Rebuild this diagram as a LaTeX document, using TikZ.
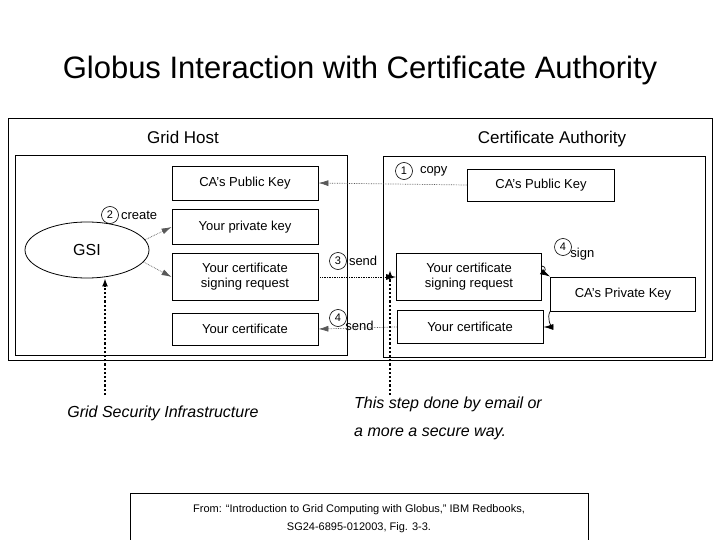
\documentclass[tikz,border=0pt]{standalone}
\usepackage{fontspec}
\setmainfont{Liberation Sans}
\usetikzlibrary{arrows.meta, positioning, shapes.geometric}

\begin{document}
\begin{tikzpicture}[x=1pt, y=-1pt,
      keybox/.style={draw, line width=0.8pt, minimum width=146pt, align=center, font=\fontsize{13}{15}\selectfont, inner sep=2pt},
      frame/.style={draw, line width=0.8pt},
      stepnum/.style={circle, draw, line width=0.6pt, inner sep=0.6pt, minimum size=17pt, font=\fontsize{11}{12}\selectfont},
      lbl/.style={font=\fontsize{13}{15}\selectfont},
      copyarrow/.style={-{Latex[length=10pt,width=6pt]}, densely dotted, gray!70!black, line width=0.7pt},
      notearrow/.style={-{Latex[length=8pt,width=6pt]}, dotted, line width=2.2pt},
      every node/.style={inner sep=1pt}
      ]
    \useasboundingbox (0,0) rectangle (720,540);

    % Title
    \node[font=\fontsize{31}{36}\selectfont] (title) at (360,70) {Globus Interaction with Certificate Authority};

    % Frames
    \draw[frame] (8,118) rectangle (712,360);
    \draw[frame] (15,155) rectangle (347,355);
    \draw[frame] (383,156) rectangle (705,357);
    \node[font=\fontsize{17}{20}\selectfont] (hostlbl) at (183,137) {Grid Host};
    \node[font=\fontsize{17}{20}\selectfont] (calbl) at (552,139) {Certificate Authority};

    % Grid host nodes
    \node[draw, ellipse, line width=0.8pt, minimum width=124pt, minimum height=56pt, font=\fontsize{16}{18}\selectfont] (gsi) at (87,250) {GSI};
    \node[keybox, minimum height=34pt] (hpub) at (245,183) {CA's Public Key};
    \node[keybox, minimum height=35pt] (hpriv) at (245,227) {Your private key};
    \node[keybox, minimum height=47pt] (hcsr) at (245,277) {Your certificate\\signing request};
    \node[keybox, minimum height=32pt] (hcert) at (245,329) {Your certificate};

    % CA nodes
    \node[keybox, minimum height=32pt, minimum width=147pt] (cpub) at (541,185) {CA's Public Key};
    \node[keybox, minimum height=47pt, minimum width=145pt] (ccsr) at (469,277) {Your certificate\\signing request};
    \node[keybox, minimum height=34pt, minimum width=145pt] (cpriv) at (623,294) {CA's Private Key};
    \node[keybox, minimum height=33pt] (ccert) at (470,327) {Your certificate};

    % Steps
    \node[stepnum] (s2) at (110,215) {2};
    \node[lbl, right=1pt of s2] (create) {create};
    \node[stepnum] (s1) at (404,171) {1};
    \node[lbl, right=6pt of s1] (copy) {copy};
    \node[stepnum] (s3) at (338,261) {3};
    \node[lbl, right=1pt of s3] (send3) {send};
    \node[stepnum] (s4a) at (338,318) {4};
    \node[lbl, below right=-4pt and 0pt of s4a] (send4) {send};
    \node[stepnum] (s4b) at (563,247) {4};
    \node[lbl, below right=-6pt and 0pt of s4b] (sign) {sign};

    % Arrows
    \draw[copyarrow] (cpub.west) -- (hpub.east);
    \draw[copyarrow] (gsi.10) -- (hpriv.west);
    \draw[copyarrow] (gsi.-12) -- (hcsr.west);
    \draw[copyarrow, black] (hcsr.east) -- (ccsr.west);
    \draw[copyarrow] (ccert.west) -- (hcert.east);
    \draw[-{Latex[length=10pt,width=6pt]}, line width=0.7pt] (ccsr.east |- 0,266) to[out=0, in=150] (cpriv.north west);
    \draw[-{Latex[length=10pt,width=6pt]}, line width=0.7pt] (cpriv.south west) to[out=-120, in=0] (ccert.east);

    % Notes
    \coordinate (gsinote) at (105,395);
    \coordinate (mailnote) at (390,395);
    \draw[notearrow] (gsinote) -- (gsi.south -| gsinote);
    \draw[notearrow] (mailnote) -- (390,270);
    \node[font=\itshape\fontsize{16}{19}\selectfont] (gsitext) at (163,413) {Grid Security Infrastructure};
    \node[font=\itshape\fontsize{16}{28}\selectfont, align=left, anchor=north west] (mailtext) at (353,396) {This step done by email or\\a more a secure way.};

    % Source
    \node[draw, line width=0.6pt, minimum width=458pt, minimum height=50pt, anchor=north, align=center, font=\fontsize{11}{18}\selectfont] (src) at (359,493)
      {From: ``Introduction to Grid Computing with Globus,'' IBM Redbooks,\\SG24-6895-012003, Fig. 3-3.};
\end{tikzpicture}
\end{document}
